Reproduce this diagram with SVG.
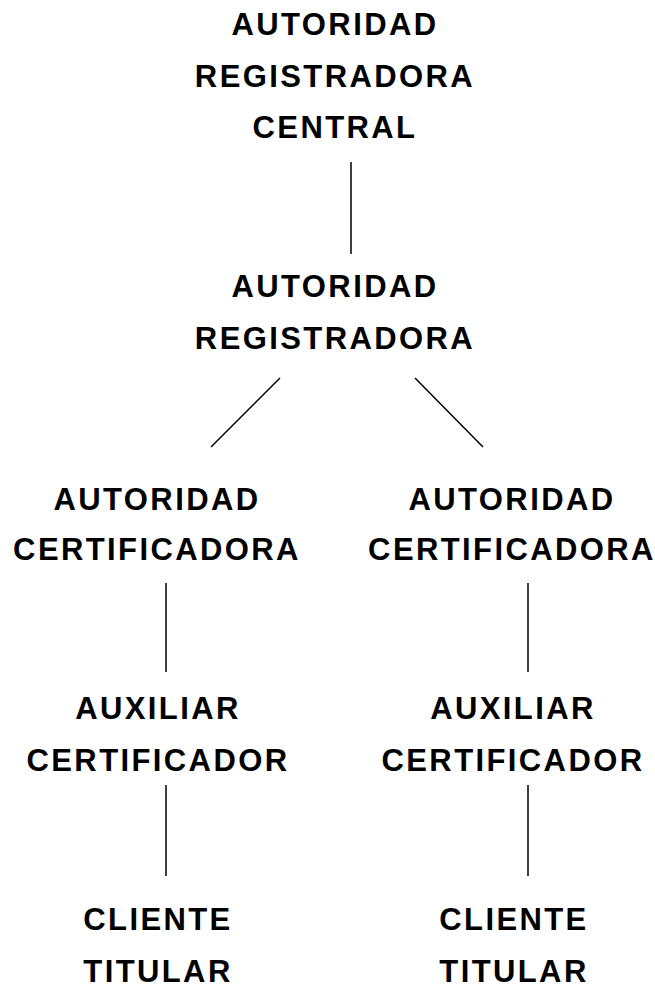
<svg xmlns="http://www.w3.org/2000/svg" width="655" height="988" viewBox="0 0 655 988">
<style>
text{font-family:"Liberation Sans",Arial,sans-serif;font-weight:bold;font-size:31px;letter-spacing:2.4px;text-anchor:middle;fill:#000}
.c line{stroke:#000;stroke-width:1.5}
</style>
<rect width="655" height="988" fill="#fff"/>
<g class="c" id="connectors">
<line x1="351" y1="162" x2="351" y2="254"/>
<line x1="280" y1="378" x2="211" y2="447"/>
<line x1="415" y1="378" x2="483" y2="447"/>
<line x1="166" y1="583" x2="166" y2="672"/>
<line x1="528" y1="583" x2="528" y2="672"/>
<line x1="166" y1="785" x2="166" y2="876"/>
<line x1="528" y1="785" x2="528" y2="876"/>
</g>
<g id="arc"><text x="335" y="35">AUTORIDAD</text><text x="335" y="87">REGISTRADORA</text><text x="335" y="138">CENTRAL</text></g>
<g id="ar"><text x="335" y="297">AUTORIDAD</text><text x="335" y="349">REGISTRADORA</text></g>
<g id="ac1"><text x="157" y="510">AUTORIDAD</text><text x="157" y="560">CERTIFICADORA</text></g>
<g id="ac2"><text x="512" y="510">AUTORIDAD</text><text x="512" y="560">CERTIFICADORA</text></g>
<g id="ax1"><text x="158" y="719">AUXILIAR</text><text x="158" y="771">CERTIFICADOR</text></g>
<g id="ax2"><text x="513" y="719">AUXILIAR</text><text x="513" y="771">CERTIFICADOR</text></g>
<g id="ct1"><text x="158" y="930">CLIENTE</text><text x="158" y="982">TITULAR</text></g>
<g id="ct2"><text x="514" y="930">CLIENTE</text><text x="514" y="982">TITULAR</text></g>
</svg>
